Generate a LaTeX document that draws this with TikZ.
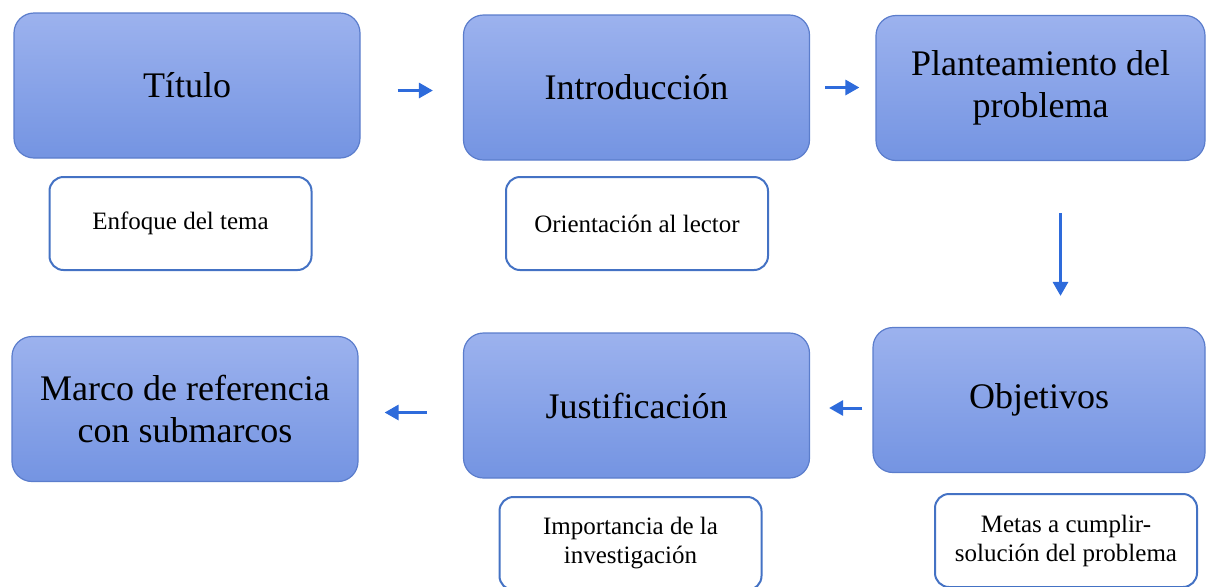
\documentclass[tikz,border=0pt]{standalone}
\usepackage{fontspec}
\setmainfont{Liberation Serif}
\usetikzlibrary{arrows.meta}
\definecolor{boxtop}{HTML}{9CB2EE}
\definecolor{boxbot}{HTML}{7494E2}
\definecolor{boxline}{HTML}{5B7DCC}
\definecolor{noteline}{HTML}{4472C4}
\definecolor{arrowblue}{HTML}{2E6BDB}

\begin{document}
\begin{tikzpicture}[x=0.5pt,y=-0.5pt,
  stage/.style={draw=boxline,line width=0.6pt,rounded corners=10pt,top color=boxtop,bottom color=boxbot,
    minimum width=173pt,minimum height=72.5pt,inner sep=0pt,align=center,font=\fontsize{18}{21}\selectfont},
  note/.style={draw=noteline,line width=1pt,rounded corners=7pt,fill=white,
    minimum width=131pt,minimum height=46.5pt,inner sep=0pt,align=center,font=\fontsize{12.5}{14.5}\selectfont},
  flow/.style={draw=arrowblue,line width=1.5pt,-{Triangle[length=7pt,width=7.5pt]}}]
  \useasboundingbox (0,0) rectangle (1207,586);

  % upper row
  \node[stage] (titulo) at (187,85.5) {Título};
  \node[stage] (intro) at (636.5,87.5) {Introducción};
  \node[stage,minimum width=164.5pt] (plant) at (1040.5,88) {Planteamiento del\\problema};
  \node[note] (enfoque) at (180.5,223.5) {Enfoque del tema};
  \node[note] (orient) at (637,223.5) {Orientación al lector};

  % lower row
  \node[stage] (marco) at (185,409) {Marco de referencia\\con submarcos};
  \node[stage] (justif) at (636.5,405.5) {Justificación};
  \node[stage,minimum width=166pt] (objet) at (1039,400) {Objetivos};
  \node[note] (import) at (630.5,543.5) {Importancia de la\\investigación};
  \node[note] (metas) at (1066,540.5) {Metas a cumplir-\\solución del problema};

  % arrows
  \draw[flow,shorten <=18.5pt,shorten >=15pt] ([yshift=-2.5pt]titulo.east) -- ([yshift=-2.5pt]titulo.east -| intro.west);
  \draw[flow,shorten <=7.5pt,shorten >=8pt] (intro.east) -- (intro.east -| plant.west);
  \draw[flow,shorten <=26pt,shorten >=15.5pt] ([xshift=10pt]plant.south) -- ([xshift=10pt]plant.south |- objet.north);
  \draw[flow,shorten <=5pt,shorten >=9.5pt] ([yshift=-4pt]objet.west) -- ([yshift=-4pt]objet.west -| justif.east);
  \draw[flow,shorten <=18pt,shorten >=13pt] ([yshift=-3.5pt]justif.west) -- ([yshift=-3.5pt]justif.west -| marco.east);
\end{tikzpicture}
\end{document}
